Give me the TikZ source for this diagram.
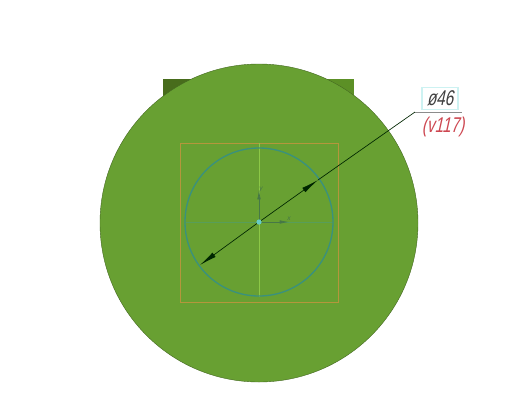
\documentclass[tikz,border=0pt]{standalone}
\usepackage{fontspec}
\setmainfont{Liberation Sans}
\newfontfamily\handfont[FakeStretch=0.72,FakeSlant=0.22]{Liberation Sans}
\usetikzlibrary{arrows.meta}
\definecolor{bodygreen}{RGB}{104,160,50}
\definecolor{tabdark}{RGB}{72,108,28}
\definecolor{tablight}{RGB}{92,144,38}
\definecolor{ringblue}{RGB}{58,145,125}
\definecolor{axisblue}{RGB}{88,158,90}
\definecolor{axislight}{RGB}{140,200,70}
\definecolor{squareor}{RGB}{180,150,60}
\definecolor{framecyan}{RGB}{205,242,242}
\definecolor{leadgray}{RGB}{140,140,140}
\definecolor{redtext}{RGB}{205,70,80}
\definecolor{axisdark}{RGB}{70,120,70}
\tikzset{
  dimline/.style={black!85!green,line width=0.5pt},
  headtip/.style={-{Latex[length=13pt,width=4pt]}},
  handtext/.style={font=\handfont\fontsize{16}{16}\selectfont,inner sep=0pt}
}
\begin{document}
\begin{tikzpicture}[x=0.75pt,y=-0.75pt]
\useasboundingbox (0,0) rectangle (522,412);
\fill[white] (0,0) rectangle (522,412);
% back tabs
\fill[tabdark] (163,79) rectangle (259,110);
\fill[tablight] (259,79) rectangle (354,110);
% body
\fill[bodygreen,draw=black!35!bodygreen,line width=0.3pt] (259,223) circle (159);
% bounding square and centre lines
\draw[squareor,line width=0.55pt] (180,143) rectangle (338,302);
\draw[axislight,line width=0.7pt] (259,143) -- (259,297);
\draw[axisblue,line width=0.5pt] (186,222) -- (333,222);
\draw[ringblue,line width=1pt] (259,222) circle (74);
% local axes
\coordinate (origin) at (259,222);
\coordinate (yend) at (259,190);
\coordinate (xend) at (289,222);
\draw[axisdark,line width=0.5pt,-{Latex[length=7pt,width=2.6pt]}] (origin) -- (yend);
\draw[axisdark,line width=0.5pt,-{Latex[length=7pt,width=2.6pt]}] (origin) -- (xend);
\node[text=axisdark,font=\itshape\fontsize{5}{5}\selectfont,inner sep=0pt] (ylab) at (261,189) {y};
\node[text=axisdark,font=\itshape\fontsize{5}{5}\selectfont,inner sep=0pt] (xlab) at (289,219) {x};
% dimension
\coordinate (tipA) at (200,265);
\coordinate (tipB) at (318,180);
\coordinate (elbow) at (415,112);
\coordinate (shelf) at (462,112);
\draw[headtip,dimline] (origin) -- (tipA);
\draw[headtip,dimline] (origin) -- (tipB);
\draw[dimline] (tipB) -- (elbow);
\draw[leadgray,line width=0.7pt] (elbow) -- (shelf);
\fill[cyan!60!green!60!white] (origin) circle (2.6);
\node[draw=framecyan,line width=0.9pt,minimum width=27pt,minimum height=16pt,inner sep=0pt,text=black!75,font=\handfont\fontsize{16}{16}\selectfont] (dim) at (440,98.5) {ø46};
\node[handtext,text=redtext] (note) at (443,127) {(v117)};
\end{tikzpicture}
\end{document}
